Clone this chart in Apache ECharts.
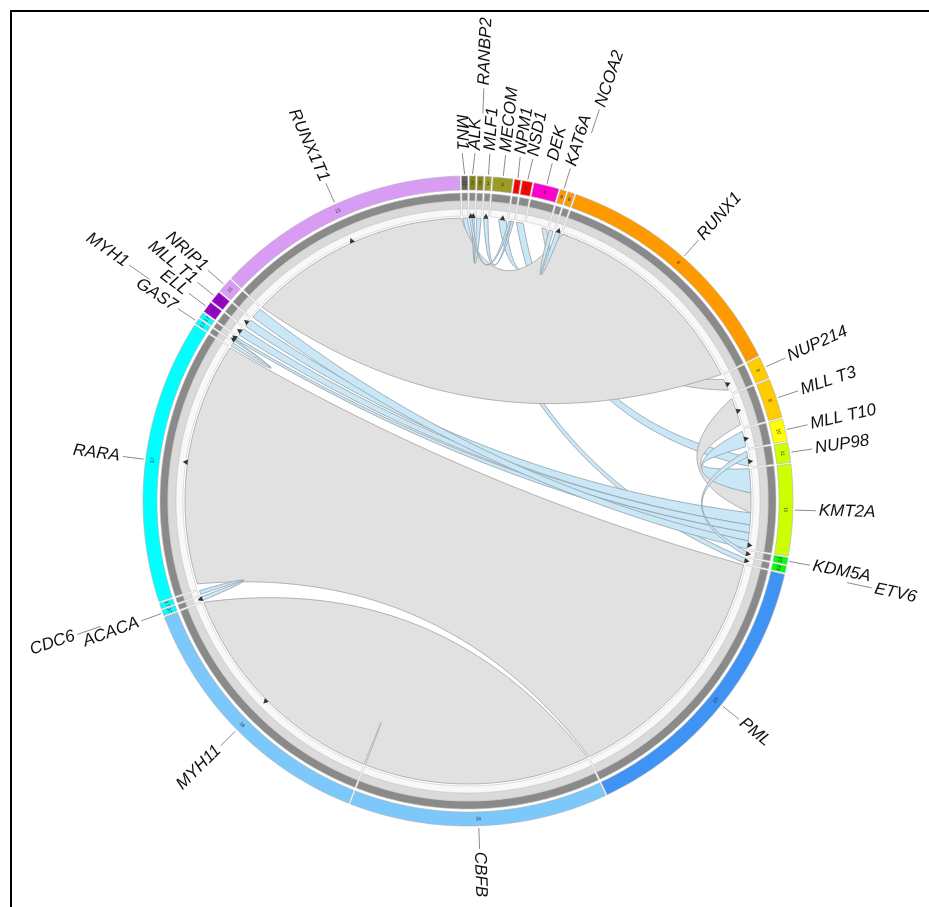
<!DOCTYPE html>
<html>
<head>
<meta charset="utf-8">
<title>Fusion genes circos</title>
<script src="https://cdn.jsdelivr.net/npm/echarts@6/dist/echarts.min.js"></script>
<style>
  html, body { margin: 0; padding: 0; background: #fff; }
  #chart { width: 929px; height: 907px; }
</style>
</head>
<body>
<div id="chart"></div>
<script>
// genes round the circle, clockwise from the top
const genes = ['ALK', 'RANBP2', 'MLF1', 'MECOM', 'NPM1', 'NSD1', 'DEK', 'KAT6A', 'NCOA2', 'RUNX1',
  'NUP214', 'MLL T3', 'MLL T10', 'NUP98', 'KMT2A', 'KDM5A', 'ETV6', 'PML', 'CBFB', 'MYH11',
  'ACACA', 'CDC6', 'RARA', 'GAS7', 'MYH1', 'ELL', 'MLL T1', 'NRIP1', 'RUNX1T1', 'MN1'];
const chromosomes = ['2', '2', '3', '3', '5', '5', '6', '8', '8', '8',
  '9', '9', '10', '11', '11', '12', '12', '15', '16', '16',
  '17', '17', '17', '17', '17', '19', '19', '21', '21', '22'];
const geneSizes = [1.1, 1.1, 1.1, 3.5, 1.1, 1.8, 4.5, 1.1, 1.2, 44,
  4.0, 7.0, 4.0, 3.5, 16.3, 1.2, 1.2, 51.6, 46.3, 47.5,
  1.0, 1.0, 50.8, 1.0, 1.0, 2.0, 2.0, 2.7, 45.3, 1.1];

// links: from gene (5') -> to gene (3', arrow end), span = part of the gene used
const linkFrom = ['MN1', 'NSD1', 'RUNX1', 'DEK', 'RUNX1', 'PML', 'CBFB', 'KMT2A', 'KMT2A', 'KMT2A',
  'KMT2A', 'KMT2A', 'NRIP1', 'NUP98', 'GAS7', 'CDC6', 'KAT6A', 'RANBP2', 'NPM1', 'NPM1'];
const linkFromSpan = [[0.1, 0.9], [0.1, 0.9], [0.0, 0.03], [0.75, 0.97], [0, 1], [0, 1], [0, 1], [0.3, 0.55], [0.0, 0.3], [0.55, 0.7],
  [0.7, 0.8], [0.8, 0.9], [0.1, 0.9], [0.05, 0.4], [0.15, 0.9], [0.1, 0.9], [0.1, 0.9], [0.1, 0.9], [0.05, 0.5], [0.5, 0.95]];
const linkTo = ['ETV6', 'NUP98', 'MECOM', 'NUP214', 'RUNX1T1', 'RARA', 'MYH11', 'MLL T3', 'MLL T10', 'MLL T1',
  'ELL', 'MYH1', 'KMT2A', 'KDM5A', 'MYH1', 'ACACA', 'NCOA2', 'ALK', 'ALK', 'MLF1'];
const linkToSpan = [[0.1, 0.9], [0.4, 0.95], [0.5, 0.95], [0.2, 0.8], [0, 1], [0.02, 1], [0, 1], [0.1, 0.9], [0.1, 0.9], [0.1, 0.9],
  [0.15, 0.9], [0.45, 0.95], [0.9, 1.0], [0.2, 0.9], [0.05, 0.4], [0.1, 0.9], [0.1, 0.9], [0.5, 0.95], [0.05, 0.5], [0.1, 0.9]];
const linkKind = ['minor', 'minor', 'minor', 'major', 'major', 'major', 'major', 'major', 'minor', 'minor',
  'minor', 'minor', 'minor', 'minor', 'minor', 'minor', 'minor', 'minor', 'minor', 'minor'];

// style
const chrColors = {
  '2': '#84841a', '3': '#9b9b26', '5': '#ff0000', '6': '#ff00cc', '8': '#ff9900',
  '9': '#ffcc00', '10': '#ffff00', '11': '#ccff00', '12': '#00ff00', '15': '#3f93f5',
  '16': '#7cc8fa', '17': '#00ffff', '19': '#9900cc', '21': '#d99cf5', '22': '#626258'
};
const outerLabels = ['RANBP2', 'NCOA2', 'ETV6', 'CDC6', 'MYH1'];
const GAP = 0.3;
const LABEL_SEP = 2.1;
const R_OUT = 325, R_COL_IN = 311, R_DARK_OUT = 308, R_DARK_IN = 300, R_LIGHT_IN = 292, R_WHITE_IN = 285, R_LINK = 283;
const linkStyle = {
  major: { fill: '#e1e1e1', stroke: '#a2a2a2', lineWidth: 0.8 },
  minor: { fill: '#c9e7f6', stroke: '#939fa8', lineWidth: 0.8 }
};
// control point radius of the link curves against angular distance
const bendTable = [[0, 193], [25, 188], [60, 140], [110, 45], [180, 0]];

const geneStart = [];
let acc = 0;
geneSizes.forEach((s) => { geneStart.push(acc); acc += s + GAP; });
const total = acc;
const gi = (name) => genes.indexOf(name);

// spread the label angles a little so neighbours do not overlap
const labelAngle = genes.map((g, i) => geneStart[i] + geneSizes[i] / 2);
[false, true].forEach((outer) => {
  const idx = genes.map((g, i) => i).filter((i) => (outerLabels.indexOf(genes[i]) >= 0) === outer);
  const un = (v) => (v < 30 ? v + total : v);
  idx.sort((p, q) => un(labelAngle[p]) - un(labelAngle[q]));
  const pos = idx.map((i) => un(labelAngle[i]));
  for (let it = 0; it < 300; it++) {
    let moved = false;
    for (let k = 1; k < pos.length; k++) {
      const d = pos[k] - pos[k - 1];
      if (d < LABEL_SEP - 1e-6) { const s = (LABEL_SEP - d) / 2; pos[k - 1] -= s; pos[k] += s; moved = true; }
    }
    if (!moved) break;
  }
  idx.forEach((i, k) => { labelAngle[i] = pos[k] % total; });
});

function bend(delta) {
  for (let k = 1; k < bendTable.length; k++) {
    if (delta <= bendTable[k][0]) {
      const [d0, r0] = bendTable[k - 1], [d1, r1] = bendTable[k];
      return r0 + (r1 - r0) * (delta - d0) / (d1 - d0);
    }
  }
  return 0;
}

function arcPts(api, r, a, b) {
  const n = Math.max(2, Math.ceil(Math.abs(b - a) / 0.4) + 1);
  const pts = [];
  for (let k = 0; k < n; k++) pts.push(api.coord([r, a + (b - a) * k / (n - 1)]));
  return pts;
}

function band(api, r0, r1, a, b, style) {
  return { type: 'polygon', shape: { points: arcPts(api, r1, a, b).concat(arcPts(api, r0, b, a)) }, style: style };
}

function clockAngle(api, v) {
  const o = api.coord([0, v]), p = api.coord([100, v]);
  return (Math.atan2(p[0] - o[0], -(p[1] - o[1])) * 180 / Math.PI + 360) % 360;
}

function curve(api, a, b) {
  let delta = ((b - a) % total + total) % total;
  let mid;
  if (delta > total / 2) { delta = total - delta; mid = a - delta / 2; } else { mid = a + delta / 2; }
  const p0 = api.coord([R_LINK, a]), p2 = api.coord([R_LINK, b]);
  const c = api.coord([bend(delta), mid]);
  const pts = [];
  for (let k = 1; k < 40; k++) {
    const t = k / 40, u = 1 - t;
    pts.push([u * u * p0[0] + 2 * u * t * c[0] + t * t * p2[0], u * u * p0[1] + 2 * u * t * c[1] + t * t * p2[1]]);
  }
  return pts;
}

const chart = echarts.init(document.getElementById('chart'));

chart.setOption({
  animation: false,
  polar: { center: [468, 501], radius: R_OUT },
  angleAxis: { type: 'value', min: 0, max: total, startAngle: 89.75, clockwise: true, show: false },
  radiusAxis: { type: 'value', min: 0, max: R_OUT, show: false },
  graphic: [{
    type: 'rect', shape: { x: 11, y: 11, width: 940, height: 920 },
    style: { fill: null, stroke: '#000', lineWidth: 2 }, z: 100
  }],
  series: [
    {
      // links
      type: 'custom', coordinateSystem: 'polar', z: 2, silent: true, clip: false,
      data: linkFrom.map((g, i) => [R_LINK, 0, i]),
      renderItem: (params, api) => {
        const i = api.value(2);
        const f = gi(linkFrom[i]), t = gi(linkTo[i]);
        const s0 = geneStart[f] + geneSizes[f] * linkFromSpan[i][0];
        const s1 = geneStart[f] + geneSizes[f] * linkFromSpan[i][1];
        const d0 = geneStart[t] + geneSizes[t] * linkToSpan[i][0];
        const d1 = geneStart[t] + geneSizes[t] * linkToSpan[i][1];
        const pts = arcPts(api, R_LINK, s0, s1)
          .concat(curve(api, s1, d0))
          .concat(arcPts(api, R_LINK, d0, d1))
          .concat(curve(api, d1, s0));
        return { type: 'polygon', shape: { points: pts }, style: linkStyle[linkKind[i]] };
      }
    },
    {
      // rings
      type: 'custom', coordinateSystem: 'polar', z: 3, silent: true, clip: false,
      data: genes.map((g, i) => [R_OUT, geneStart[i], i]),
      renderItem: (params, api) => {
        const i = api.value(2);
        const a = geneStart[i], b = a + geneSizes[i], mid = (a + b) / 2;
        const th = clockAngle(api, mid);
        const c = api.coord([318, mid]);
        const rot = (th > 90 && th < 270) ? 180 - th : -th;
        return {
          type: 'group',
          children: [
            band(api, R_COL_IN, R_OUT, a, b, { fill: chrColors[chromosomes[i]], stroke: '#b0b0b0', lineWidth: 0.6 }),
            band(api, R_DARK_IN, R_DARK_OUT, a, b, { fill: '#8a8a8a', stroke: '#c4c4c4', lineWidth: 0.6 }),
            band(api, R_LIGHT_IN, R_DARK_IN, a, b, { fill: '#dadada', stroke: '#c4c4c4', lineWidth: 0.6 }),
            band(api, R_WHITE_IN, R_LIGHT_IN, a, b, { fill: '#f8f8f8', stroke: '#c8c8c8', lineWidth: 0.6 }),
            {
              type: 'text', x: c[0], y: c[1], rotation: rot * Math.PI / 180,
              style: { text: chromosomes[i], font: '5px sans-serif', fill: '#333', align: 'center', verticalAlign: 'middle' }
            }
          ]
        };
      }
    },
    {
      // arrow heads at the 3' end of each link
      type: 'custom', coordinateSystem: 'polar', z: 4, silent: true, clip: false,
      data: linkTo.map((g, i) => [R_LINK, 0, i]),
      renderItem: (params, api) => {
        const i = api.value(2);
        const t = gi(linkTo[i]);
        const m = geneStart[t] + geneSizes[t] * (linkToSpan[i][0] + linkToSpan[i][1]) / 2;
        return {
          type: 'polygon',
          shape: { points: [api.coord([R_LINK + 5, m]), api.coord([R_LINK, m - 0.55]), api.coord([R_LINK, m + 0.55])] },
          style: { fill: '#333' }
        };
      }
    },
    {
      // gene names
      type: 'custom', coordinateSystem: 'polar', z: 5, silent: true, clip: false,
      data: genes.map((g, i) => [R_OUT, geneStart[i], i]),
      renderItem: (params, api) => {
        const i = api.value(2);
        const mid = geneStart[i] + geneSizes[i] / 2;
        const la = labelAngle[i];
        const th = clockAngle(api, la);
        const outer = outerLabels.indexOf(genes[i]) >= 0;
        const p0 = outer ? api.coord([388, la]) : api.coord([327, mid]);
        const p1 = api.coord([outer ? 413 : 348, la]);
        const pt = api.coord([outer ? 416 : 351, la]);
        const right = th < 180;
        const rot = right ? 90 - th : 270 - th;
        return {
          type: 'group',
          children: [
            { type: 'line', shape: { x1: p0[0], y1: p0[1], x2: p1[0], y2: p1[1] }, style: { stroke: '#8c8c8c', lineWidth: 1 } },
            {
              type: 'text', x: pt[0], y: pt[1], rotation: rot * Math.PI / 180,
              style: {
                text: genes[i], font: 'italic 17px "Liberation Sans", Arial, sans-serif', fill: '#111',
                align: right ? 'left' : 'right', verticalAlign: 'middle'
              }
            }
          ]
        };
      }
    }
  ]
});
</script>
</body>
</html>
